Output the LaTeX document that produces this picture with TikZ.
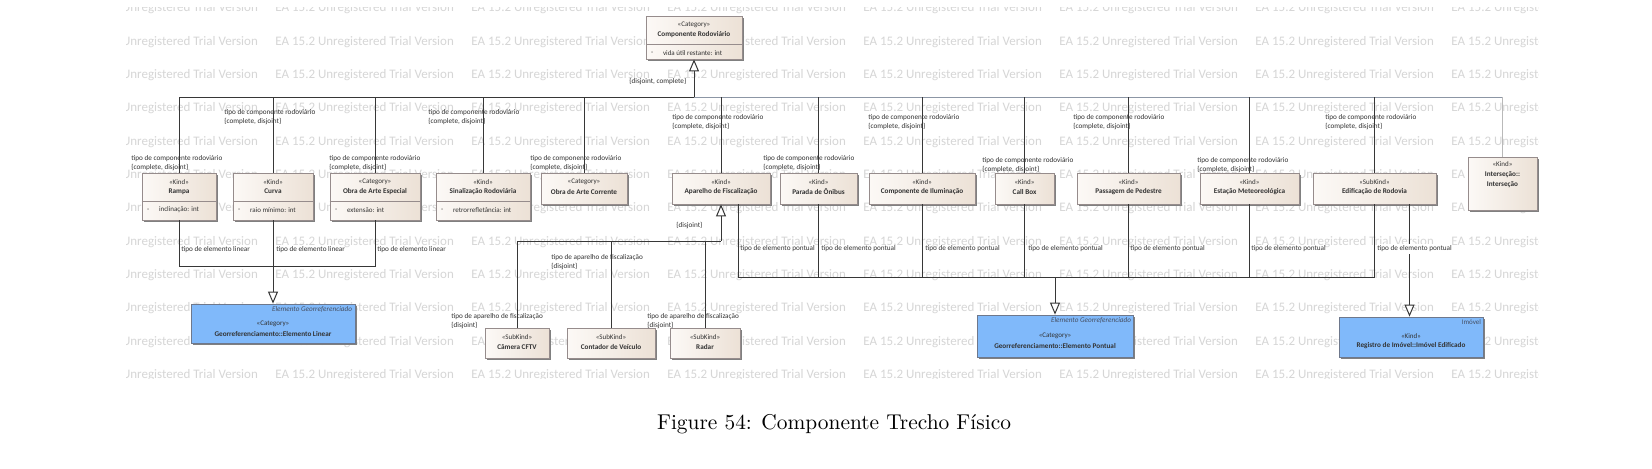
\documentclass[tikz,border=0pt]{standalone}
\usepackage{fontspec}
\newfontfamily\eafont{Carlito}
\usetikzlibrary{shadows,fit,calc,arrows.meta}
\definecolor{wm}{RGB}{214,214,214}
\definecolor{boxl}{RGB}{252,249,246}
\definecolor{boxr}{RGB}{236,225,214}
\definecolor{boxd}{RGB}{150,140,140}
\definecolor{bluef}{RGB}{128,185,250}
\definecolor{blued}{RGB}{110,120,140}
\definecolor{lin}{RGB}{55,55,55}
\definecolor{linl}{RGB}{140,150,165}
\definecolor{txt}{RGB}{50,50,50}
\definecolor{itx}{RGB}{70,80,100}
\newcommand\clsname[3]{\node[ster] (#1s) at ($(#1.north)+(0,9)$) {«#2»};\node[bname] (#1n) at ($(#1.north)+(0,19)$) {#3};}
\newcommand\clsattr[2]{\draw[divl] ($(#1.north west)+(0,29)$) -- ($(#1.north east)+(0,29)$);\node[attr] (#1m) at ($(#1.north west)+(5,37.5)$) {-};\node[attr] (#1a) at ($(#1.north west)+(17,37.5)$) {#2};}
\begin{document}
\begin{tikzpicture}[x=0.5pt,y=-0.5pt,
  conn/.style={draw=lin,line width=0.5pt},
  connl/.style={draw=linl,line width=0.5pt},
  gen/.style={-{Triangle[length=6pt,width=5pt,fill=white]}},
  genr/.style={{Triangle[length=6pt,width=5pt,fill=white]}-},
  umlbox/.style={draw=boxd,line width=0.4pt,left color=boxl,right color=boxr,inner sep=0pt,general shadow={fill=black!50,shadow xshift=1pt,shadow yshift=-1pt}},
  bluebox/.style={draw=blued,line width=0.4pt,fill=bluef,inner sep=0pt,general shadow={fill=black!50,shadow xshift=1pt,shadow yshift=-1pt}},
  ster/.style={font=\eafont\fontsize{3.5}{4.2}\selectfont,text=txt,inner sep=0pt},
  bname/.style={font=\eafont\bfseries\fontsize{3.6}{4.4}\selectfont,text=txt,inner sep=0pt},
  attr/.style={font=\eafont\fontsize{3.5}{4.2}\selectfont,text=txt,inner sep=0pt,anchor=west},
  lbl/.style={font=\eafont\fontsize{3.6}{4.5}\selectfont,text=txt,inner sep=0pt,anchor=west,align=left},
  ital/.style={font=\eafont\itshape\fontsize{3.6}{4.4}\selectfont,text=itx,inner sep=0pt,anchor=east},
  wmk/.style={font=\eafont\fontsize{6.5}{7}\selectfont,text=wm,inner sep=0pt,anchor=west},
  divl/.style={draw=boxd,line width=0.4pt}]
\useasboundingbox[fill=white] (0,0) rectangle (1652,468);
% watermark
\begin{scope}
\clip (126,7) rectangle (1538,378);
\foreach \r in {0,...,11}{\foreach \k in {0,...,7}{
  \node[wmk] (w\r-\k) at ({79+196*\k},{8.5+33.33*\r}) {EA 15.2 Unregistered Trial Version};}}
\end{scope}
% boxes
\node[umlbox,fit={(646,16) (742,59)}] (comp) {};
\node[umlbox,fit={(142,173) (216,220)}] (rampa) {};
\node[umlbox,fit={(233,173) (313,220)}] (curva) {};
\node[umlbox,fit={(330,173) (420,220)}] (oae) {};
\node[umlbox,fit={(436,173) (530,220)}] (sin) {};
\node[umlbox,fit={(541,173) (627,204)}] (oac) {};
\node[umlbox,fit={(672,173) (770,204)}] (aparelho) {};
\node[umlbox,fit={(780,173) (857,204)}] (parada) {};
\node[umlbox,fit={(869,173) (975,204)}] (ilum) {};
\node[umlbox,fit={(995,173) (1054,204)}] (callbox) {};
\node[umlbox,fit={(1077,173) (1180,204)}] (passagem) {};
\node[umlbox,fit={(1200,173) (1299,204)}] (estacao) {};
\node[umlbox,fit={(1313,173) (1436,204)}] (edif) {};
\node[umlbox,fit={(1468,157) (1537,210)}] (inters) {};
\node[umlbox,fit={(485,328) (549,358)}] (camera) {};
\node[umlbox,fit={(567,328) (655,358)}] (contador) {};
\node[umlbox,fit={(670,328) (740,358)}] (radar) {};
\node[bluebox,fit={(191,304) (355,343)}] (linear) {};
\node[bluebox,fit={(977,315) (1133,357)}] (pontual) {};
\node[bluebox,fit={(1339,317) (1483,357)}] (imovel) {};
% box texts
\clsname{comp}{Category}{Componente Rodoviário}
\clsattr{comp}{vida útil restante: int}
\clsname{rampa}{Kind}{Rampa}
\clsattr{rampa}{inclinação: int}
\clsname{curva}{Kind}{Curva}
\clsattr{curva}{raio mínimo: int}
\clsname{oae}{Category}{Obra de Arte Especial}
\clsattr{oae}{extensão: int}
\clsname{sin}{Kind}{Sinalização Rodoviária}
\clsattr{sin}{retrorrefletância: int}
\clsname{oac}{Category}{Obra de Arte Corrente}
\clsname{aparelho}{Kind}{Aparelho de Fiscalização}
\clsname{parada}{Kind}{Parada de Ônibus}
\clsname{ilum}{Kind}{Componente de Iluminação}
\clsname{callbox}{Kind}{Call Box}
\clsname{passagem}{Kind}{Passagem de Pedestre}
\clsname{estacao}{Kind}{Estação Meteoreológica}
\clsname{edif}{SubKind}{Edificação de Rodovia}
\clsname{camera}{SubKind}{Câmera CFTV}
\clsname{contador}{SubKind}{Contador de Veículo}
\clsname{radar}{SubKind}{Radar}
\node[ster] (interss) at ($(inters.north)+(0,7)$) {«Kind»};
\node[bname] (intersn) at ($(inters.north)+(0,18)$) {Interseção::};
\node[bname] (intersm) at ($(inters.north)+(0,28)$) {Interseção};
\node[ital] (lineari) at ($(linear.north east)+(-3,6)$) {Elemento Georreferenciado};
\node[ster] (linears) at ($(linear.north)+(0,20)$) {«Category»};
\node[bname] (linearn) at ($(linear.north)+(0,30)$) {Georreferenciamento::Elemento Linear};
\node[ital] (pontuali) at ($(pontual.north east)+(-2,6)$) {Elemento Georreferenciado};
\node[ster] (pontuals) at ($(pontual.north)+(0,21)$) {«Category»};
\node[bname] (pontualn) at ($(pontual.north)+(0,31)$) {Georreferenciamento::Elemento Pontual};
\node[ster,anchor=east,text=itx] (imoveli) at ($(imovel.north east)+(-2,5)$) {Imóvel};
\node[ster] (imovels) at ($(imovel.north)+(0,19)$) {«Kind»};
\node[bname] (imoveln) at ($(imovel.north)+(0,29)$) {Registro de Imóvel::Imóvel Edificado};
% main generalization set
\coordinate (busy) at (0,97);
\draw[conn] (rampa.north |- busy) -- (comp.south |- busy);
\draw[connl] (comp.south |- busy) -- (inters.north |- busy);
\draw[conn,gen] (comp.south |- busy) -- (comp.south);
\foreach \n in {rampa,curva,oae,sin,oac,aparelho,parada,ilum,callbox,passagem,estacao,edif}{
  \draw[conn] (\n.north |- busy) -- (\n.north);}
\draw[draw=gray!55,line width=0.9pt] (inters.north |- busy) -- (inters.north);
% linear
\coordinate (liny) at (0,266);
\draw[conn] (rampa.south) -- (rampa.south |- liny) -- (oae.south |- liny) -- (oae.south);
\draw[conn,gen] (curva.south) -- (linear.north);
% pontual
\coordinate (pony) at (0,277);
\coordinate (apP) at ($(aparelho.south)+(17,0)$);
\draw[conn] (apP) -- (apP |- pony) -- (edif.south |- pony) -- (edif.south);
\foreach \n in {parada,ilum,callbox,passagem,estacao}{
  \draw[conn] (\n.south) -- (\n.south |- pony);}
\draw[conn,gen] (pontual.north |- pony) -- (pontual.north);
% imovel
\coordinate (edP) at ($(edif.south)+(35,0)$);
\draw[conn,gen] (edP) -- (edP |- imovel.north);
% fiscalizacao
\coordinate (fisy) at (0,241);
\draw[conn,genr] (aparelho.south) -- (aparelho.south |- fisy);
\draw[conn] (camera.north |- fisy) -- (aparelho.south |- fisy);
\foreach \n in {camera,contador,radar}{
  \draw[conn] (\n.north |- fisy) -- (\n.north);}
% labels
\node[lbl] (lc0) at (629,82) {\{disjoint, complete\}};
\node[lbl] (lr1) at (131,163.5) {tipo de componente rodoviário\\\{complete, disjoint\}};
\node[lbl] (lr2) at (224,117.5) {tipo de componente rodoviário\\\{complete, disjoint\}};
\node[lbl] (lr3) at (329,163.5) {tipo de componente rodoviário\\\{complete, disjoint\}};
\node[lbl] (lr4) at (428,117.5) {tipo de componente rodoviário\\\{complete, disjoint\}};
\node[lbl] (lr5) at (530,163.5) {tipo de componente rodoviário\\\{complete, disjoint\}};
\node[lbl] (lr6) at (672,122.5) {tipo de componente rodoviário\\\{complete, disjoint\}};
\node[lbl] (lr7) at (763,163.5) {tipo de componente rodoviário\\\{complete, disjoint\}};
\node[lbl] (lr8) at (868,122.5) {tipo de componente rodoviário\\\{complete, disjoint\}};
\node[lbl] (lr9) at (982,165.5) {tipo de componente rodoviário\\\{complete, disjoint\}};
\node[lbl] (lr10) at (1073,122.5) {tipo de componente rodoviário\\\{complete, disjoint\}};
\node[lbl] (lr11) at (1197,165.5) {tipo de componente rodoviário\\\{complete, disjoint\}};
\node[lbl] (lr12) at (1325,122.5) {tipo de componente rodoviário\\\{complete, disjoint\}};
\node[lbl] (ll1) at (181,250) {tipo de elemento linear};
\node[lbl] (ll2) at (276,250) {tipo de elemento linear};
\node[lbl] (ll3) at (377,250) {tipo de elemento linear};
\node[lbl] (lp1) at (740,249) {tipo de elemento pontual};
\node[lbl] (lp2) at (821,249) {tipo de elemento pontual};
\node[lbl] (lp3) at (925,249) {tipo de elemento pontual};
\node[lbl] (lp4) at (1028,249) {tipo de elemento pontual};
\node[lbl] (lp5) at (1130,249) {tipo de elemento pontual};
\node[lbl] (lp6) at (1251,249) {tipo de elemento pontual};
\node[lbl,fill=white,inner ysep=1pt] (lp7) at (1377,249) {tipo de elemento pontual};
\node[lbl] (lf0) at (676,226) {\{disjoint\}};
\node[lbl] (lf1) at (551,262) {tipo de aparelho de fiscalização\\\{disjoint\}};
\node[lbl] (lf2) at (451,321) {tipo de aparelho de fiscalização\\\{disjoint\}};
\node[lbl] (lf3) at (647,321) {tipo de aparelho de fiscalização\\\{disjoint\}};
% caption
\node[font=\fontsize{10.7}{13}\selectfont,inner sep=0pt] (cap) at (834,424) {Figure 54: Componente Trecho Físico};
\end{tikzpicture}
\end{document}
